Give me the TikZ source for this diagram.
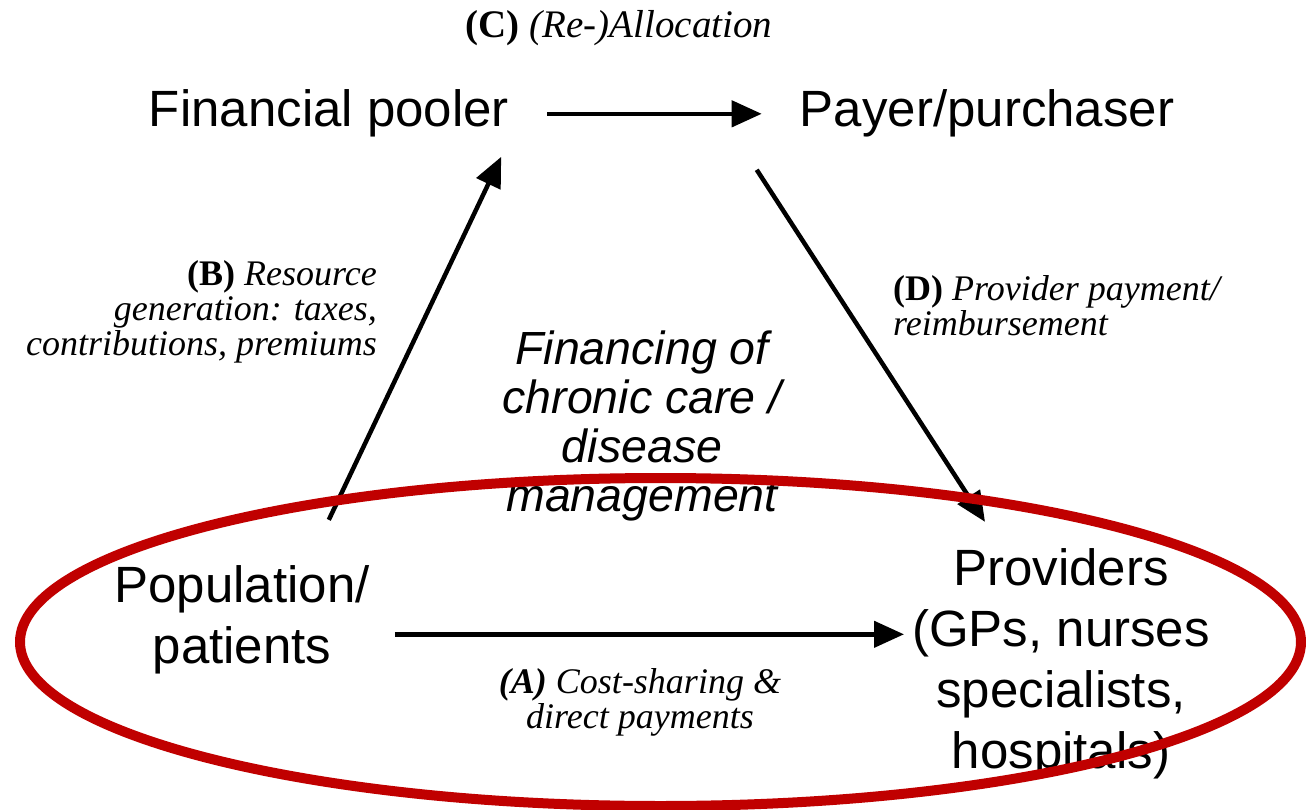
\documentclass[tikz,border=0pt]{standalone}
\usepackage{fontspec}
\setmainfont{Liberation Serif}
\newfontfamily\arialfont{Liberation Sans}
\usetikzlibrary{arrows.meta}
\definecolor{ringred}{RGB}{192,0,0}
\begin{document}
\begin{tikzpicture}[x=1pt,y=-1pt,
  actor/.style={inner sep=0pt, align=center, font=\arialfont\fontsize{51}{61}\selectfont},
  theme/.style={inner sep=0pt, align=center, font=\arialfont\itshape\fontsize{46.5}{49}\selectfont},
  flowlabel/.style={inner sep=0pt, font=\fontsize{36}{35}\selectfont},
  flow/.style={line width=4.5pt, -{Triangle[length=30pt,width=26pt]}}]
\useasboundingbox (0,0) rectangle (1306,810);

% actors (multi-line nodes are placed by the baseline of their last line)
\node[actor, anchor=base] (pool) at (329,127) {Financial pooler};
\node[actor, anchor=base] (payer) at (987,127) {Payer/purchaser};
\node[actor, anchor=base] (pop) at (242,663) {Population/\\patients};
\node[actor, anchor=base] (prov) at (1061,768) {Providers\\(GPs, nurses\\specialists,\\hospitals)};

% centre theme
\node[theme, anchor=base] (theme) at (642,511) {Financing of\\chronic care /\\disease\\management};

% flow labels
\node[flowlabel, anchor=base, font=\fontsize{39}{39}\selectfont] (lc) at (619,38) {\textbf{(C)} \textit{(Re-)Allocation}};
\node[flowlabel, anchor=base east, align=right] (lb) at (377,355)
  {\textbf{(B)} \textit{Resource}\\\textit{generation: taxes,}\\\textit{contributions, premiums}};
\node[flowlabel, anchor=base west, align=left] (ld) at (893,335)
  {\textbf{(D)} \textit{Provider payment/}\\\textit{reimbursement}};
\node[flowlabel, anchor=base, align=center] (la) at (640,728)
  {\textbf{\textit{(A)}} \textit{Cost-sharing \&}\\\textit{direct payments}};

% flows
\draw[flow] ([xshift=38pt]pool.east) -- ([xshift=-38pt]payer.west);
\draw[flow] ([shift={(-41,-45)}]pop.north east) -- ([shift={(-8,19)}]pool.south east);
\draw[flow] ([shift={(-43,32)}]payer.south west) -- ([shift={(-76,-26)}]prov.north);
\draw[flow] ([shift={(25,15)}]pop.east) -- ([shift={(-8,-29)}]prov.west);

% highlight ring
\draw[ringred, line width=10pt] (660.5,642) ellipse [x radius=640.5, y radius=164];
\end{tikzpicture}
\end{document}
